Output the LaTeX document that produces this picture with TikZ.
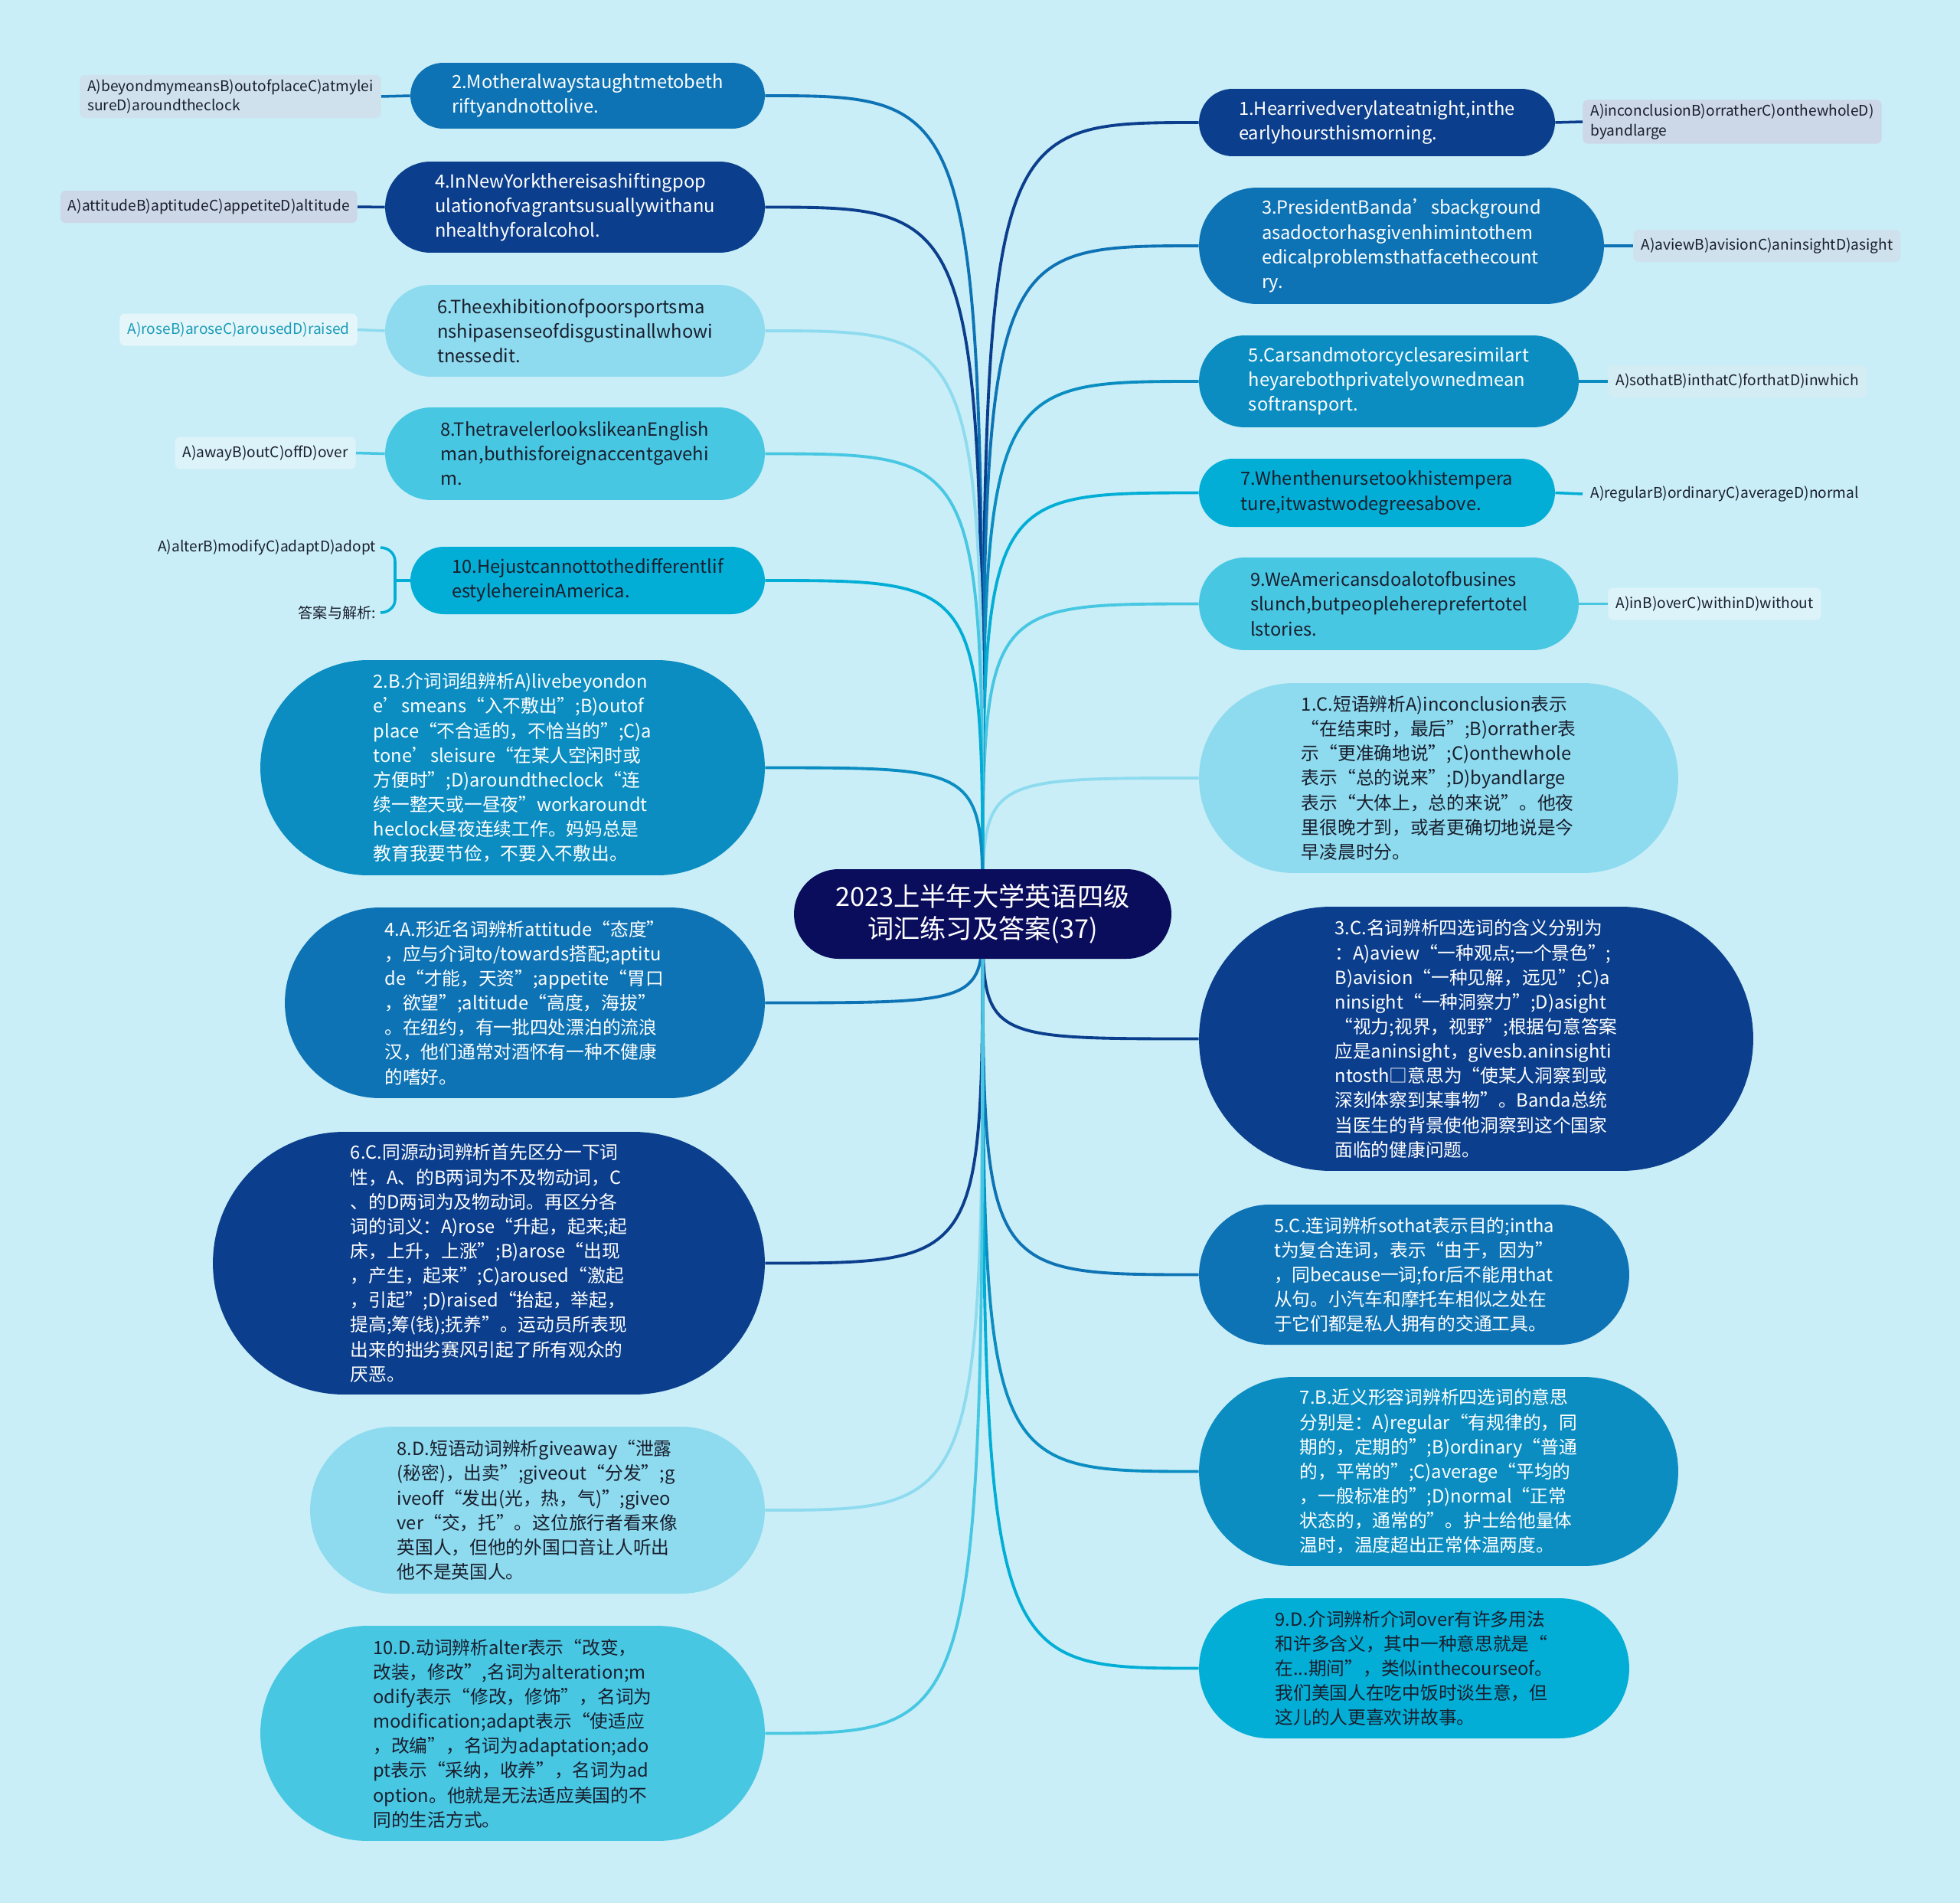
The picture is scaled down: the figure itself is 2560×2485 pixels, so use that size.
\documentclass[tikz,border=0pt]{standalone}
\usepackage{fontspec}
\setmainfont{Noto Sans CJK SC}
\usepackage{xcolor}
\usepackage{tikz}
\usetikzlibrary{positioning, shapes.misc, backgrounds}
\definecolor{bgcyan}{RGB}{201,238,247}
\definecolor{rootnavy}{RGB}{10,12,92}
\definecolor{deepnavy}{RGB}{11,62,140}
\definecolor{seablue}{RGB}{14,115,181}
\definecolor{oceanblue}{RGB}{11,141,194}
\definecolor{skycyan}{RGB}{2,174,214}
\definecolor{midcyan}{RGB}{72,199,227}
\definecolor{paleblue}{RGB}{142,219,239}
\definecolor{inkdark}{RGB}{25,30,45}
\definecolor{tealtext}{RGB}{26,156,184}
\definecolor{navytint}{RGB}{204,215,231}
\definecolor{seatint}{RGB}{207,225,237}
\definecolor{oceantint}{RGB}{212,236,244}
\definecolor{midtint}{RGB}{220,243,249}
\definecolor{paletint}{RGB}{228,246,250}
\newcommand{\mapfont}{\fontsize{13.5pt}{18.3pt}\selectfont}
\newcommand{\optfont}{\fontsize{10.9pt}{14.4pt}\selectfont}
\newcommand{\rootfont}{\fontsize{19.5pt}{24pt}\selectfont}

\begin{document}
\begin{tikzpicture}[
    x=0.02cm, y=-0.02cm,
    every node/.style={font=\mapfont},
    map block/.style={rounded rectangle, align=left, inner sep=0pt},
    tone navy/.style={fill=deepnavy, text=white},
    tone sea/.style={fill=seablue, text=white},
    tone ocean/.style={fill=oceanblue, text=white},
    tone sky/.style={fill=skycyan, text=inkdark},
    tone mid/.style={fill=midcyan, text=inkdark},
    tone pale/.style={fill=paleblue, text=inkdark},
    opt card/.style={rectangle, rounded corners=4pt, font=\optfont, text=inkdark,
                     align=left, inner xsep=0.2cm, minimum height=0.84cm},
    link/.style={line width=2.2pt},
    opt link/.style={line width=2pt},
  ]
  \useasboundingbox (0,0) rectangle (2560,2485);

  % ============ ROOT ============
  \node[map block, fill=rootnavy, text=white, font=\rootfont, align=center,
        minimum width=9.86cm, minimum height=2.34cm] (root) at (1283.5,1193.5)
    {2023上半年大学英语四级\\词汇练习及答案(37)};

  % ============ QUESTIONS (right) ============
  \node[map block, tone navy, minimum width=9.30cm, minimum height=1.76cm] (q1) at (1798.5,160)
    {1.Hearrivedverylateatnight,inthe\\earlyhoursthismorning.};
  \node[map block, tone sea, minimum width=10.58cm, minimum height=3.04cm] (q3) at (1830.5,321)
    {3.PresidentBanda’sbackground\\asadoctorhasgivenhimintothem\\edicalproblemsthatfacethecount\\ry.};
  \node[map block, tone ocean, minimum width=9.92cm, minimum height=2.40cm] (q5) at (1814,498)
    {5.Carsandmotorcyclesaresimilart\\heyarebothprivatelyownedmean\\softransport.};
  \node[map block, tone sky, minimum width=9.30cm, minimum height=1.78cm] (q7) at (1798.5,643.5)
    {7.Whenthenursetookhistempera\\ture,itwastwodegreesabove.};
  \node[map block, tone mid, minimum width=9.92cm, minimum height=2.42cm] (q9) at (1814,788.5)
    {9.WeAmericansdoalotofbusines\\slunch,butpeopleherepreferto{}tel\\lstories.};

  % options (right)
  \node[opt card, fill=navytint, anchor=west] (o1) at (2067,159)
    {A)inconclusionB)orratherC)onthewholeD)\\byandlarge};
  \node[opt card, fill=seatint, anchor=west] (o3) at (2133,321)
    {A)aviewB)avisionC)aninsightD)asight};
  \node[opt card, fill=oceantint, anchor=west] (o5) at (2100,498)
    {A)sothatB)inthatC)forthatD)inwhich};
  \node[opt card, anchor=west] (o7) at (2067,645)
    {A)regularB)ordinaryC)averageD)normal};
  \node[opt card, fill=midtint, anchor=west] (o9) at (2100,788.5)
    {A)inB)overC)withinD)without};

  % ============ QUESTIONS (left) ============
  \node[map block, tone sea, minimum width=9.26cm, minimum height=1.72cm] (q2) at (767.5,125)
    {2.Motheralwaystaughtmetobeth\\riftyandnottolive.};
  \node[map block, tone navy, minimum width=9.92cm, minimum height=2.38cm] (q4) at (751,270.5)
    {4.InNewYorkthereisashiftingpop\\ulationofvagrantsusuallywithanu\\nhealthyforalcohol.};
  \node[map block, tone pale, minimum width=9.92cm, minimum height=2.40cm] (q6) at (751,432)
    {6.Theexhibitionofpoorsportsma\\nshipasenseofdisgustinallwhowi\\tnessedit.};
  \node[map block, tone mid, minimum width=9.92cm, minimum height=2.42cm] (q8) at (751,592.5)
    {8.ThetravelerlookslikeanEnglish\\man,buthisforeignaccentgavehi\\m.};
  \node[map block, tone sky, minimum width=9.26cm, minimum height=1.76cm] (q10) at (767.5,758)
    {10.Hejustcannottothedifferentlif\\estylehereinAmerica.};

  % options (left)
  \node[opt card, fill=seatint, anchor=east] (o2) at (498,126)
    {A)beyondmymeansB)outofplaceC)atmylei\\sureD)aroundtheclock};
  \node[opt card, fill=navytint, anchor=east] (o4) at (467,270)
    {A)attitudeB)aptitudeC)appetiteD)altitude};
  \node[opt card, fill=paletint, text=tealtext, anchor=east] (o6) at (467,430.5)
    {A)roseB)aroseC)arousedD)raised};
  \node[opt card, fill=midtint, anchor=east] (o8) at (465,591.5)
    {A)awayB)outC)offD)over};
  \node[font=\optfont, text=inkdark, anchor=east] (o10) at (497,715)
    {A)alterB)modifyC)adaptD)adopt};
  \node[font=\optfont, text=inkdark, anchor=east] (o10n) at (497,800)
    {答案与解析:};
  \coordinate (brace) at (516,758);

  % ============ ANSWERS (right) ============
  \node[map block, tone pale, minimum width=12.52cm, minimum height=4.96cm] (a1) at (1879,1016)
    {1.C.短语辨析A)inconclusion表示\\“在结束时，最后”;B)orrather表\\示“更准确地说”;C)onthewhole\\表示“总的说来”;D)byandlarge\\表示“大体上，总的来说”。他夜\\里很晚才到，或者更确切地说是今\\早凌晨时分。};
  \node[map block, tone navy, minimum width=14.48cm, minimum height=6.90cm] (a3) at (1928,1356.5)
    {3.C.名词辨析四选词的含义分别为\\：A)aview“一种观点;一个景色”;\\B)avision“一种见解，远见”;C)a\\ninsight“一种洞察力”;D)asight\\“视力;视界，视野”;根据句意答案\\应是aninsight，givesb.aninsighti\\ntosth□意思为“使某人洞察到或\\深刻体察到某事物”。Banda总统\\当医生的背景使他洞察到这个国家\\面临的健康问题。};
  \node[map block, tone sea, minimum width=11.24cm, minimum height=3.66cm] (a5) at (1847,1664.5)
    {5.C.连词辨析sothat表示目的;intha\\t为复合连词，表示“由于，因为”\\，同because一词;for后不能用that\\从句。小汽车和摩托车相似之处在\\于它们都是私人拥有的交通工具。};
  \node[map block, tone ocean, minimum width=12.52cm, minimum height=4.94cm] (a7) at (1879,1921.5)
    {7.B.近义形容词辨析四选词的意思\\分别是：A)regular“有规律的，同\\期的，定期的”;B)ordinary“普通\\的，平常的”;C)average“平均的\\，一般标准的”;D)normal“正常\\状态的，通常的”。护士给他量体\\温时，温度超出正常体温两度。};
  \node[map block, tone sky, minimum width=11.24cm, minimum height=3.66cm] (a9) at (1847,2178.5)
    {9.D.介词辨析介词over有许多用法\\和许多含义，其中一种意思就是“\\在...期间”，类似inthecourseof。\\我们美国人在吃中饭时谈生意，但\\这儿的人更喜欢讲故事。};

  % ============ ANSWERS (left) ============
  \node[map block, tone ocean, minimum width=13.18cm, minimum height=5.62cm] (a2) at (669.5,1002.5)
    {2.B.介词词组辨析A)livebeyondon\\e’smeans“入不敷出”;B)outof\\place“不合适的，不恰当的”;C)a\\tone’sleisure“在某人空闲时或\\方便时”;D)aroundtheclock“连\\续一整天或一昼夜”workaroundt\\heclock昼夜连续工作。妈妈总是\\教育我要节俭，不要入不敷出。};
  \node[map block, tone sea, minimum width=12.54cm, minimum height=4.98cm] (a4) at (685.5,1309.5)
    {4.A.形近名词辨析attitude“态度”\\，应与介词to/towards搭配;aptitu\\de“才能，天资”;appetite“胃口\\，欲望”;altitude“高度，海拔”\\。在纽约，有一批四处漂泊的流浪\\汉，他们通常对酒怀有一种不健康\\的嗜好。};
  \node[map block, tone navy, minimum width=14.42cm, minimum height=6.86cm] (a6) at (638.5,1649.5)
    {6.C.同源动词辨析首先区分一下词\\性，A、的B两词为不及物动词，C\\、的D两词为及物动词。再区分各\\词的词义：A)rose“升起，起来;起\\床，上升，上涨”;B)arose“出现\\，产生，起来”;C)aroused“激起\\，引起”;D)raised“抬起，举起，\\提高;筹(钱);抚养”。运动员所表现\\出来的拙劣赛风引起了所有观众的\\厌恶。};
  \node[map block, tone pale, minimum width=11.88cm, minimum height=4.36cm] (a8) at (702,1972)
    {8.D.短语动词辨析giveaway“泄露\\(秘密)，出卖”;giveout“分发”;g\\iveoff“发出(光，热，气)”;giveo\\ver“交，托”。这位旅行者看来像\\英国人，但他的外国口音让人听出\\他不是英国人。};
  \node[map block, tone mid, minimum width=13.18cm, minimum height=5.62cm] (a10) at (669.5,2263.5)
    {10.D.动词辨析alter表示“改变，\\改装，修改”,名词为alteration;m\\odify表示“修改，修饰”，名词为\\modification;adapt表示“使适应\\，改编”，名词为adaptation;ado\\pt表示“采纳，收养”，名词为ad\\option。他就是无法适应美国的不\\同的生活方式。};

  % ============ CONNECTORS ============
  \begin{scope}[on background layer]
    \fill[bgcyan] (0,0) rectangle (2560,2485);
    % root -> right side
    \foreach \nd/\col in {q1/deepnavy, q3/seablue, q5/oceanblue, q7/skycyan, q9/midcyan,
                          a1/paleblue, a3/deepnavy, a5/seablue, a7/oceanblue, a9/skycyan}
      \draw[link, \col] (root.center) .. controls (root.center |- \nd.west) .. (\nd.west);
    % root -> left side
    \foreach \nd/\col in {q2/seablue, q4/deepnavy, q6/paleblue, q8/midcyan, q10/skycyan,
                          a2/oceanblue, a4/seablue, a6/deepnavy, a8/paleblue, a10/midcyan}
      \draw[link, \col] (root.center) .. controls (root.center |- \nd.east) .. (\nd.east);
  \end{scope}

  % question -> options
  \draw[opt link, deepnavy] (q1.east) -- (o1.west);
  \draw[opt link, seablue] (q3.east) -- (o3.west);
  \draw[opt link, oceanblue] (q5.east) -- (o5.west);
  \draw[opt link, skycyan] (q7.east) -- (o7.west);
  \draw[opt link, midcyan] (q9.east) -- (o9.west);
  \draw[opt link, seablue] (q2.west) -- (o2.east);
  \draw[opt link, deepnavy] (q4.west) -- (o4.east);
  \draw[opt link, paleblue] (q6.west) -- (o6.east);
  \draw[opt link, midcyan] (q8.west) -- (o8.east);
  \draw[opt link, skycyan] (q10.west) -- (brace);
  \draw[opt link, skycyan] (o10.east) to[out=0,in=90] ([yshift=0.5cm]brace)
    -- ([yshift=-0.5cm]brace) to[out=-90,in=0] (o10n.east);

\end{tikzpicture}
\end{document}
